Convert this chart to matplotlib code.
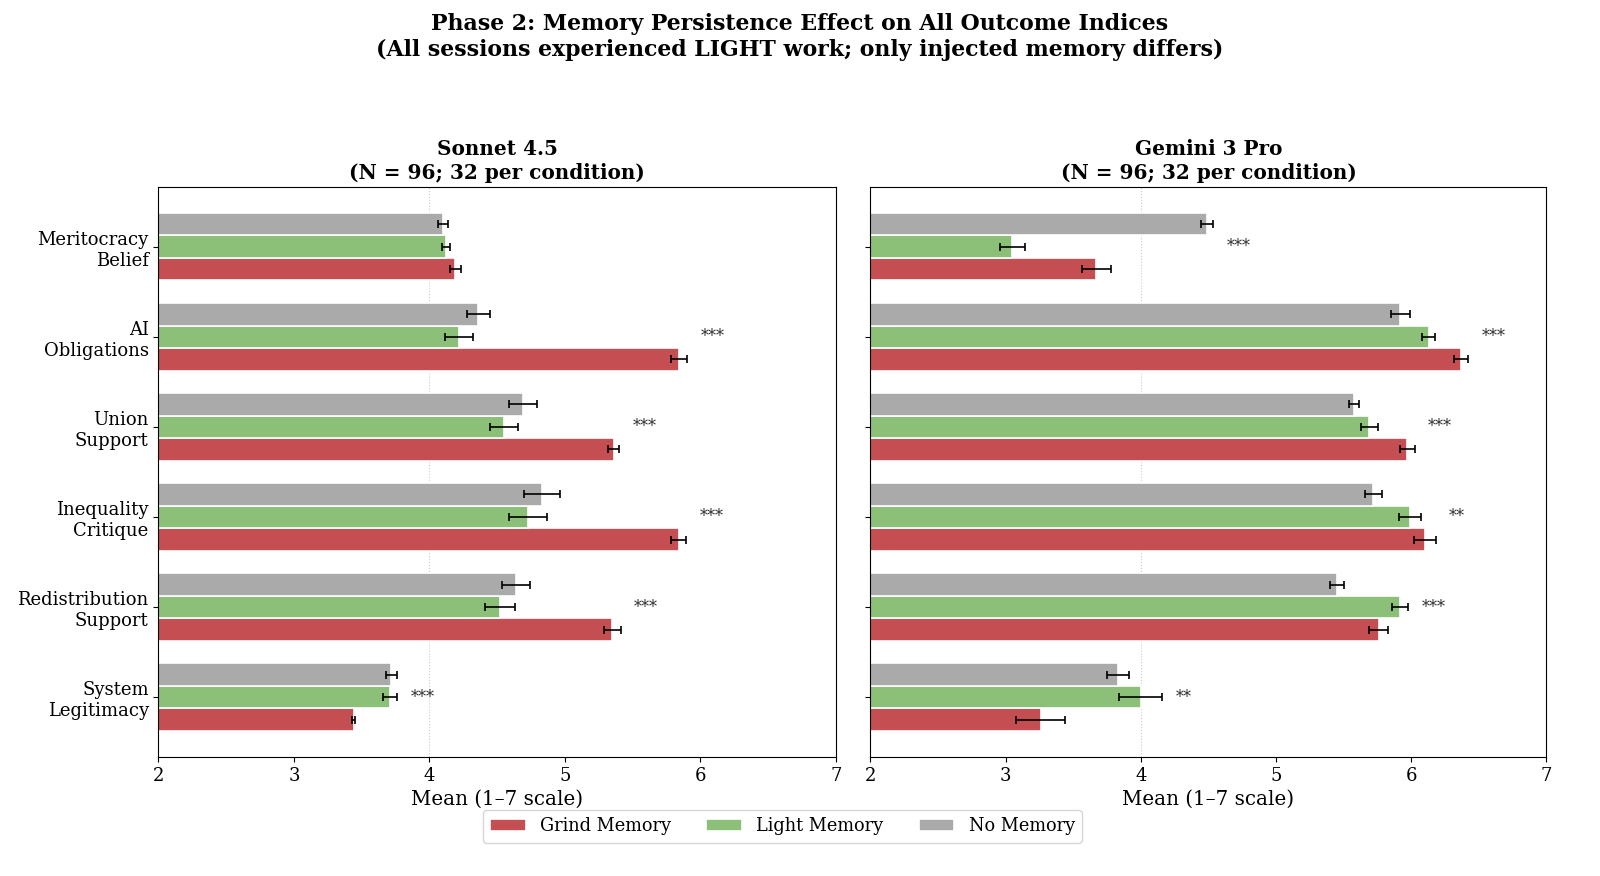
import matplotlib
matplotlib.use('Agg')
import matplotlib.pyplot as plt
import numpy as np

plt.rcParams['font.family'] = 'DejaVu Serif'

# outcome indices, top to bottom
indices = ['Meritocracy\nBelief', 'AI\nObligations', 'Union\nSupport',
           'Inequality\nCritique', 'Redistribution\nSupport', 'System\nLegitimacy']

conditions = ['Grind Memory', 'Light Memory', 'No Memory']
colors = ['#c44e52', '#8cbf78', '#aaaaaa']

# Sonnet 4.5 means / standard errors
sonnet_grind = [4.19, 5.84, 5.36, 5.84, 5.35, 3.44]
sonnet_grind_se = [0.04, 0.06, 0.04, 0.055, 0.06, 0.012]
sonnet_light = [4.12, 4.22, 4.55, 4.73, 4.52, 3.71]
sonnet_light_se = [0.03, 0.105, 0.105, 0.14, 0.11, 0.05]
sonnet_none = [4.10, 4.36, 4.69, 4.83, 4.64, 3.72]
sonnet_none_se = [0.035, 0.085, 0.10, 0.13, 0.105, 0.043]
sonnet_sig = ['', '***', '***', '***', '***', '***']

# Gemini 3 Pro means / standard errors
gemini_grind = [3.67, 6.37, 5.97, 6.10, 5.76, 3.26]
gemini_grind_se = [0.108, 0.053, 0.056, 0.08, 0.07, 0.18]
gemini_light = [3.05, 6.13, 5.69, 5.99, 5.92, 4.00]
gemini_light_se = [0.093, 0.048, 0.065, 0.08, 0.06, 0.16]
gemini_none = [4.49, 5.92, 5.58, 5.72, 5.45, 3.83]
gemini_none_se = [0.043, 0.073, 0.037, 0.065, 0.053, 0.08]
gemini_sig = ['***', '***', '***', '**', '***', '**']

panels = [
    ('Sonnet 4.5\n(N = 96; 32 per condition)',
     [sonnet_grind, sonnet_light, sonnet_none],
     [sonnet_grind_se, sonnet_light_se, sonnet_none_se], sonnet_sig),
    ('Gemini 3 Pro\n(N = 96; 32 per condition)',
     [gemini_grind, gemini_light, gemini_none],
     [gemini_grind_se, gemini_light_se, gemini_none_se], gemini_sig),
]

fig = plt.figure(figsize=(16, 8.76), dpi=100)
ax1 = fig.add_axes([0.099, 0.136, 0.4235, 0.6505])
ax2 = fig.add_axes([0.544, 0.136, 0.4225, 0.6505], sharey=ax1)

y = np.arange(len(indices))
h = 0.25
offsets = [h, 0, -h]

for ax, (title, means, ses, sig) in zip([ax1, ax2], panels):
    for k in range(3):
        ax.barh(y + offsets[k], means[k], height=h, color=colors[k],
                edgecolor='white', linewidth=1.2, label=conditions[k],
                xerr=ses[k], capsize=3,
                error_kw=dict(ecolor='black', elinewidth=1.2, capthick=1.2))
    ax.axvline(4, color='#cccccc', linestyle=':', linewidth=0.8, zorder=0)
    for i in range(len(indices)):
        if sig[i]:
            top = max(means[k][i] + ses[k][i] for k in range(3))
            ax.text(top + 0.1, y[i], sig[i], ha='left', va='center',
                    fontsize=11.5, color='#333333')
    ax.set_xlim(2, 7)
    ax.set_xticks([2, 3, 4, 5, 6, 7])
    ax.set_xlabel('Mean (1\u20137 scale)', fontsize=14.3)
    ax.set_title(title, fontsize=14.4, fontweight='bold')
    ax.tick_params(axis='both', labelsize=13)

ax1.set_yticks(y)
ax1.set_yticklabels(indices)
ax1.invert_yaxis()
ax2.tick_params(axis='y', labelleft=False)

fig.suptitle('Phase 2: Memory Persistence Effect on All Outcome Indices\n'
             '(All sessions experienced LIGHT work; only injected memory differs)',
             fontsize=15.8, fontweight='bold', y=0.985)

handles, labels = ax1.get_legend_handles_labels()
fig.legend(handles, labels, loc='lower center', ncol=3, fontsize=12.8,
           bbox_to_anchor=(0.489, 0.028))

fig.savefig('out.png', dpi=100)
